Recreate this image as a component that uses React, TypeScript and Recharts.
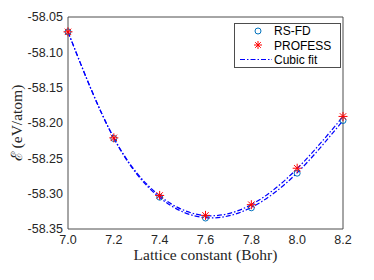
import { LineChart, Line, XAxis, YAxis, Legend } from "recharts"

const lattice = [7.0, 7.2, 7.4, 7.6, 7.8, 8.0, 8.2]
const rsfd = [-58.071, -58.222, -58.305, -58.3345, -58.32, -58.271, -58.1965]
const profess = [-58.071, -58.221, -58.3025, -58.3307, -58.3156, -58.264, -58.1907]
const fitRsfd = [-58.071, -58.2215, -58.3055, -58.334, -58.3195, -58.2705, -58.1965]
const fitProfess = [-58.071, -58.221, -58.303, -58.331, -58.3155, -58.2645, -58.191]

const xTicks = [7.0, 7.2, 7.4, 7.6, 7.8, 8.0, 8.2]
const yTicks = [-58.35, -58.3, -58.25, -58.2, -58.15, -58.1, -58.05]

const data = lattice.map((x, i) => ({
  x,
  rsfd: rsfd[i],
  profess: profess[i],
  fitRsfd: fitRsfd[i],
  fitProfess: fitProfess[i],
}))

const BLUE = "#0072BD"
const RED = "#FF0000"
const FIT = "#0000FF"
const FRAME = "#4d4d4d"
const TEXT = "#262626"
const DASHDOT = "5 2 1.5 2"

function Asterisk({ cx, cy, r = 4.5 }: { cx: number; cy: number; r?: number }) {
  const d = r * 0.707
  return (
    <g stroke={RED} strokeWidth={1} fill="none">
      <line x1={cx - r} y1={cy} x2={cx + r} y2={cy} />
      <line x1={cx} y1={cy - r} x2={cx} y2={cy + r} />
      <line x1={cx - d} y1={cy - d} x2={cx + d} y2={cy + d} />
      <line x1={cx - d} y1={cy + d} x2={cx + d} y2={cy - d} />
    </g>
  )
}

const renderCircle = (props: any) => (
  <circle key={`c-${props.index}`} cx={props.cx} cy={props.cy} r={3} stroke={BLUE} strokeWidth={1} fill="none" />
)

const renderStar = (props: any) => <Asterisk key={`s-${props.index}`} cx={props.cx} cy={props.cy} />

function LegendBox() {
  const font = { fontFamily: "Liberation Sans, Arial, sans-serif", fontSize: 12, fill: "#000" }
  return (
    <svg width={107} height={45} style={{ display: "block" }}>
      <rect x={0.5} y={0.5} width={106} height={44} fill="#fff" stroke={FRAME} />
      <circle cx={24} cy={8} r={3} stroke={BLUE} fill="none" />
      <Asterisk cx={24} cy={22} r={4} />
      <line x1={6} x2={38} y1={36.5} y2={36.5} stroke={FIT} strokeDasharray={DASHDOT} />
      <text x={40} y={12} {...font}>RS-FD</text>
      <text x={40} y={26.5} {...font}>PROFESS</text>
      <text x={40} y={40.5} {...font}>Cubic fit</text>
    </svg>
  )
}

export default function App() {
  const tickStyle = { fontFamily: "Liberation Sans, Arial, sans-serif", fontSize: 12.5, fill: TEXT }
  const labelStyle = { fontFamily: "Liberation Serif, Times New Roman, serif", fontSize: 15.5, fill: TEXT }
  return (
    <div style={{ position: "absolute", left: 0, top: 0, background: "#fff" }}>
      <LineChart width={374} height={280} data={data} margin={{ top: 17, right: 31, left: 0, bottom: 0 }}>
        <XAxis
          xAxisId="main"
          dataKey="x"
          type="number"
          domain={[7, 8.2]}
          ticks={xTicks}
          tickFormatter={(v: number) => v.toFixed(1)}
          tick={tickStyle}
          tickLine={false}
          tickSize={0}
          tickMargin={6}
          height={51}
          axisLine={{ stroke: FRAME }}
          label={{ value: "Lattice constant (Bohr)", position: "insideBottom", offset: 20, style: labelStyle }}
        />
        <XAxis xAxisId="bottomTicks" dataKey="x" type="number" domain={[7, 8.2]} ticks={xTicks}
          mirror tick={false} tickSize={3} tickLine={{ stroke: FRAME }} axisLine={false} />
        <XAxis xAxisId="top" orientation="top" dataKey="x" type="number" domain={[7, 8.2]} ticks={xTicks}
          mirror tick={false} tickSize={3} tickLine={{ stroke: FRAME }} axisLine={{ stroke: FRAME }} />
        <YAxis
          yAxisId="main"
          type="number"
          domain={[-58.35, -58.05]}
          ticks={yTicks}
          tickFormatter={(v: number) => v.toFixed(2)}
          tick={tickStyle}
          tickLine={false}
          tickSize={0}
          tickMargin={5}
          width={68}
          axisLine={{ stroke: FRAME }}
          label={{ value: "\u2130 (eV/atom)", angle: -90, position: "insideLeft", offset: 16, style: { ...labelStyle, textAnchor: "middle" } }}
        />
        <YAxis yAxisId="leftTicks" type="number" domain={[-58.35, -58.05]} ticks={yTicks}
          mirror tick={false} tickSize={3} tickLine={{ stroke: FRAME }} axisLine={false} />
        <YAxis yAxisId="right" orientation="right" type="number" domain={[-58.35, -58.05]} ticks={yTicks}
          mirror tick={false} tickSize={3} tickLine={{ stroke: FRAME }} axisLine={{ stroke: FRAME }} />
        <Legend
          layout="vertical"
          align="center"
          verticalAlign="middle"
          wrapperStyle={{ left: 234, top: 23, width: 107, height: 45 }}
          content={() => <LegendBox />}
        />
        <Line xAxisId="main" yAxisId="main" dataKey="rsfd" stroke="none" dot={renderCircle} activeDot={false} isAnimationActive={false} />
        <Line xAxisId="main" yAxisId="main" dataKey="profess" stroke="none" dot={renderStar} activeDot={false} isAnimationActive={false} />
        <Line xAxisId="main" yAxisId="main" dataKey="fitRsfd" type="natural" stroke={FIT} strokeWidth={1.2} strokeDasharray={DASHDOT} dot={false} activeDot={false} isAnimationActive={false} />
        <Line xAxisId="main" yAxisId="main" dataKey="fitProfess" type="natural" stroke={FIT} strokeWidth={1.2} strokeDasharray={DASHDOT} dot={false} activeDot={false} isAnimationActive={false} />
      </LineChart>
    </div>
  )
}
